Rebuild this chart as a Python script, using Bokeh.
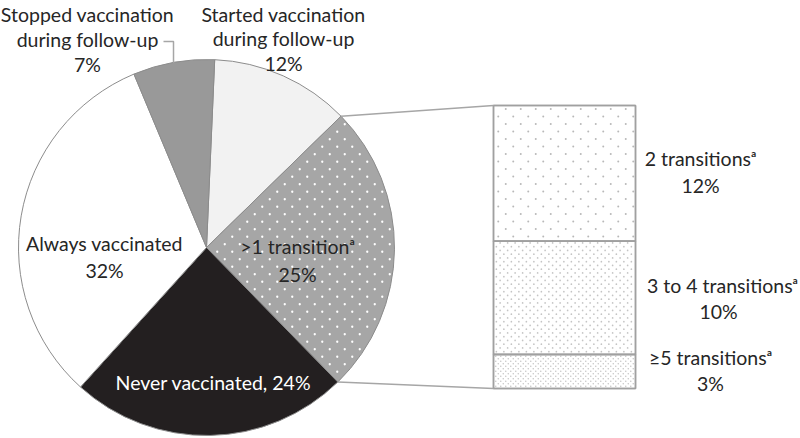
import math
import numpy as np
from bokeh.plotting import figure
from bokeh.models import Range1d, ColumnDataSource
from bokeh.embed import file_html
from bokeh.resources import INLINE
from bokeh.core.properties import value

# ---- data ----
pie_labels = ["Started vaccination\nduring follow-up", ">1 transition\u1d43", "Never vaccinated",
              "Always vaccinated", "Stopped vaccination\nduring follow-up"]
pie_values = [12, 25, 24, 32, 7]
bar_labels = ["2 transitions\u1d43", "3 to 4 transitions\u1d43", "\u22655 transitions\u1d43"]
bar_values = [12, 10, 3]

# ---- figure (data units = pixels, y negative downward) ----
W, H = 800, 438
p = figure(width=W, height=H, output_backend="svg", toolbar_location=None,
           x_range=Range1d(0, W), y_range=Range1d(-H, 0),
           min_border=0)
p.axis.visible = False
p.grid.visible = False
p.outline_line_color = None
p.background_fill_color = "white"
p.border_fill_color = "white"

FONT = value("Lato")
TXT = "#262626"


def stagger_grid(x0, x1, y0, y1, dx):
    """Staggered dot texture: columns every dx, rows every dx/2, odd rows offset."""
    xs, ys = [], []
    dy = dx / 2
    j = 0
    y = y0 + dy / 2
    while y < y1:
        off = (dx / 2) if j % 2 else 0
        x = x0 + dx / 4 + off
        while x < x1:
            xs.append(x); ys.append(y)
            x += dx
        y += dy
        j += 1
    return np.array(xs), np.array(ys)


# ---- pie ----
cx, cy, r = 206, -247, 188
start_deg = 2.5  # clockwise from 12 o'clock
fills = ["#f2f2f2", "#a6a6a6", "#231f20", "#ffffff", "#999999"]
total = sum(pie_values)
starts, ends, th_bounds = [], [], []
cum = 0
for v in pie_values:
    t1 = start_deg + cum / total * 360
    t2 = start_deg + (cum + v) / total * 360
    th_bounds.append((t1, t2))
    starts.append(math.radians(90 - t2))
    ends.append(math.radians(90 - t1))
    cum += v

src = ColumnDataSource(dict(x=[cx] * 5, y=[cy] * 5, s=starts, e=ends, fill=fills))
p.wedge(x="x", y="y", radius=r, start_angle="s", end_angle="e", direction="anticlock",
        fill_color="fill", line_color="#8c8c8c", line_width=1, source=src)

# dot texture inside the ">1 transition" slice
gx, gy = stagger_grid(cx - r, cx + r, cy - r, cy + r, 15)
dxs, dys = gx - cx, gy - cy
dist = np.hypot(dxs, dys)
ang = np.degrees(np.arctan2(dxs, dys)) % 360  # clockwise from top
a1, a2 = th_bounds[1]
inside = (dist < r - 2.5) & (dist > 6) & (ang > a1 + 0.8) & (ang < a2 - 0.8)
p.scatter(gx[inside], gy[inside], marker="circle", size=2.3, fill_color="white", line_color=None)

# ---- bar of pie ----
bx0, bx1 = 493, 635
btop, bbot = -105, -388
bh = btop - bbot
btot = sum(bar_values)
tops, bots = [], []
c = 0
for v in bar_values:
    tops.append(btop - c / btot * bh)
    bots.append(btop - (c + v) / btot * bh)
    c += v
p.quad(left=bx0, right=bx1, top=tops, bottom=bots, fill_color="white",
       line_color="#a0a0a0", line_width=1.5)

bar_spacing = [15, 7.5, 5]
bar_dot = [2.0, 1.7, 1.5]
bar_dcolor = ["#b8b8b8", "#c4c4c4", "#c4c4c4"]
for t, b, sp, sz, dc in zip(tops, bots, bar_spacing, bar_dot, bar_dcolor):
    gx, gy = stagger_grid(bx0 + 1, bx1 - 1, b + 1, t - 1, sp)
    p.scatter(gx, gy, marker="circle", size=sz, fill_color=dc, line_color=None)
p.quad(left=bx0, right=bx1, top=tops, bottom=bots, fill_color=None,
       line_color="#a0a0a0", line_width=1.5)

# ---- connector lines ----
t1, t2 = th_bounds[1]
p1 = (cx + r * math.sin(math.radians(t1)), cy + r * math.cos(math.radians(t1)))
p2 = (cx + r * math.sin(math.radians(t2)), cy + r * math.cos(math.radians(t2)))
p.line([p1[0], bx0], [p1[1], btop], line_color="#a6a6a6", line_width=1.5)
p.line([p2[0], bx0], [p2[1], bbot], line_color="#a6a6a6", line_width=1.5)

# leader for stopped slice
ts1, ts2 = th_bounds[4]
tm = (ts1 + ts2) / 2
p.line([163, 173, cx + r * math.sin(math.radians(tm))],
       [-41, -41, cy + r * math.cos(math.radians(tm))],
       line_color="#a6a6a6", line_width=1.5)

# ---- labels ----
def label(x, y, s, color=TXT, size="19.5px"):
    p.text(x=[x], y=[-y], text=[s], text_font=FONT, text_font_size=size,
           text_align="center", text_baseline="middle", text_color=color)

pct = [f"{v}%" for v in pie_values]
s0, s1 = pie_labels[4].split("\n")
label(87, 14, s0); label(87, 39, s1); label(87, 64, pct[4])
s0, s1 = pie_labels[0].split("\n")
label(283, 14, s0); label(283, 38, s1); label(283, 63, pct[0])
label(104, 243, pie_labels[3]); label(104, 270, pct[3])
label(297, 246, pie_labels[1]); label(297, 274, pct[1])
label(213, 382, f"{pie_labels[2]}, {pct[2]}", color="white")

bpct = [f"{v}%" for v in bar_values]
label(700, 158, bar_labels[0]); label(700, 185, bpct[0])
label(722, 285, bar_labels[1]); label(718, 311, bpct[1])
label(710, 357, bar_labels[2]); label(710, 383, bpct[2])

open("out.html", "w").write(file_html(p, INLINE))
